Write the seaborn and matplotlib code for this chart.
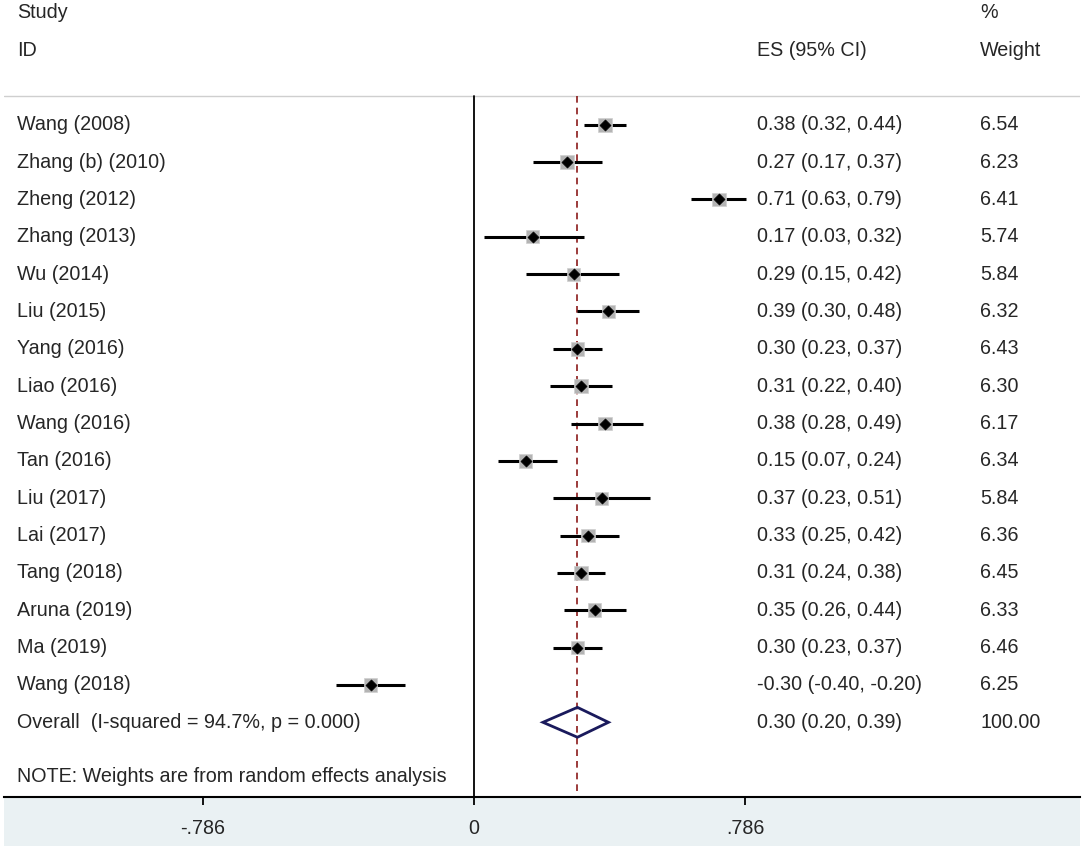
import numpy as np
import pandas as pd
import matplotlib.pyplot as plt
import matplotlib.patches as mpatches
import seaborn as sns

studies = ["Wang (2008)", "Zhang (b) (2010)", "Zheng (2012)", "Zhang (2013)", "Wu (2014)",
           "Liu (2015)", "Yang (2016)", "Liao (2016)", "Wang (2016)", "Tan (2016)",
           "Liu (2017)", "Lai (2017)", "Tang (2018)", "Aruna (2019)", "Ma (2019)", "Wang (2018)"]
es = [0.38, 0.27, 0.71, 0.17, 0.29, 0.39, 0.30, 0.31, 0.38, 0.15, 0.37, 0.33, 0.31, 0.35, 0.30, -0.30]
lo = [0.32, 0.17, 0.63, 0.03, 0.15, 0.30, 0.23, 0.22, 0.28, 0.07, 0.23, 0.25, 0.24, 0.26, 0.23, -0.40]
hi = [0.44, 0.37, 0.79, 0.32, 0.42, 0.48, 0.37, 0.40, 0.49, 0.24, 0.51, 0.42, 0.38, 0.44, 0.37, -0.20]
weights = [6.54, 6.23, 6.41, 5.74, 5.84, 6.32, 6.43, 6.30, 6.17, 6.34, 5.84, 6.36, 6.45, 6.33, 6.46, 6.25]

overall_label = "Overall  (I-squared = 94.7%, p = 0.000)"
overall_es, overall_lo, overall_hi = 0.30, 0.20, 0.39
note = "NOTE: Weights are from random effects analysis"
tick_vals = [-0.786, 0, 0.786]
tick_labels = ["-.786", "0", ".786"]

df = pd.DataFrame({"study": studies, "es": es, "lo": lo, "hi": hi, "weight": weights})
df["row"] = np.arange(len(df))

sns.set_theme(style="white")
plt.rcParams["font.family"] = ["Liberation Sans", "DejaVu Sans"]
fs = 14.2

W, H = 1084, 851
fig = plt.figure(figsize=(W / 100, H / 100), dpi=100)

# bottom band behind everything
fig.patches.append(mpatches.Rectangle((4 / W, (H - 846) / H), 1076 / W, 49 / H,
                                      transform=fig.transFigure, facecolor="#eaf1f3",
                                      edgecolor="none", zorder=-5))

# axes spans px 4..1080 horizontally, 0..797 vertically
ax = fig.add_axes([4 / W, (H - 797) / H, 1076 / W, 797 / H])
ax.set_zorder(2)
ax.set_xlim(-1.363, 1.7575)
ax.set_ylim(18, -3.34)
ax.patch.set_alpha(0)

# header separator
ax.axhline(-0.78, color="#cfcfcf", lw=1.0, zorder=1)
ax.plot([0, 0], [-0.78, 18], color="black", lw=1.3, zorder=2)
ax.plot([overall_es, overall_es], [-0.78, 18], color="#8b1a1a", lw=1.2,
        ls=(0, (4, 3)), zorder=2)

# CI lines
ax.hlines(df["row"], df["lo"], df["hi"], color="black", lw=2.2, zorder=3)
sns.scatterplot(data=df, x="es", y="row", marker="s", s=df["weight"] * 15,
                color="#b4b4b4", edgecolor="#d0d0d0", linewidth=0.5, ax=ax, zorder=4, legend=False)
sns.scatterplot(data=df, x="es", y="row", marker="D", s=32, color="black",
                edgecolor="black", ax=ax, zorder=5, legend=False)

# overall diamond
orow = len(df)
ax.add_patch(mpatches.Polygon([[overall_lo, orow], [overall_es, orow - 0.4],
                               [overall_hi, orow], [overall_es, orow + 0.4]],
                              closed=True, fill=False, edgecolor="#1a1a5c", lw=2, zorder=5))

x_study, x_es, x_w = -1.325, 0.821, 1.4675
ax.text(x_study, -3, "Study", fontsize=fs, va="center")
ax.text(x_study, -2, "ID", fontsize=fs, va="center")
ax.text(x_es, -2, "ES (95% CI)", fontsize=fs, va="center")
ax.text(x_w, -3, "%", fontsize=fs, va="center")
ax.text(x_w, -2, "Weight", fontsize=fs, va="center")

for r in df.itertuples():
    ax.text(x_study, r.row, r.study, fontsize=fs, va="center")
    ax.text(x_es, r.row, f"{r.es:.2f} ({r.lo:.2f}, {r.hi:.2f})", fontsize=fs, va="center")
    ax.text(x_w, r.row, f"{r.weight:.2f}", fontsize=fs, va="center")

ax.text(x_study, orow, overall_label, fontsize=fs, va="center")
ax.text(x_es, orow, f"{overall_es:.2f} ({overall_lo:.2f}, {overall_hi:.2f})", fontsize=fs, va="center")
ax.text(x_w, orow, "100.00", fontsize=fs, va="center")
ax.text(x_study, orow + 1.45, note, fontsize=fs, va="center")

for side in ["top", "left", "right"]:
    ax.spines[side].set_visible(False)
ax.spines["bottom"].set_linewidth(1.5)
ax.spines["bottom"].set_color("black")
ax.set_yticks([])
ax.set_xticks(tick_vals)
ax.set_xticklabels(tick_labels, fontsize=fs)
ax.tick_params(axis="x", direction="out", length=6, width=1.3, color="black", pad=10, bottom=True)
ax.set_xlabel("")
ax.set_ylabel("")

fig.savefig("out.png", dpi=100)
